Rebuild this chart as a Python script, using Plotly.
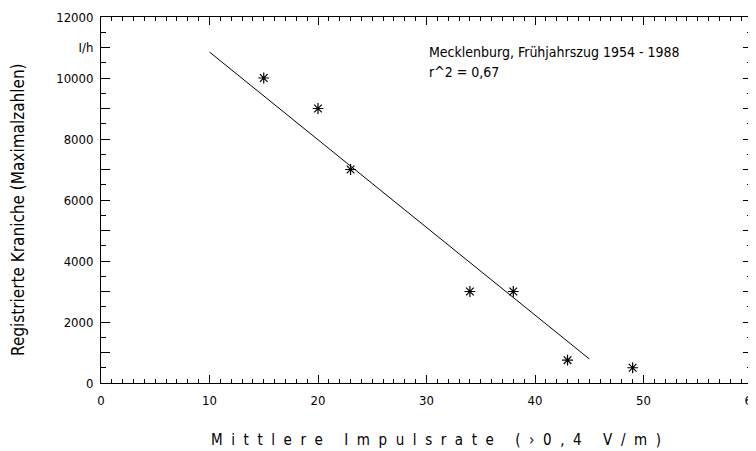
import plotly.graph_objects as go

# Data
impulse_rate = [15, 20, 23, 34, 38, 43, 49]
cranes = [10000, 9000, 7000, 3000, 3000, 750, 500]
fit_x = [10, 45]
fit_y = [10850, 790]

x_ticks = [0, 10, 20, 30, 40, 50, 60]
x_ticktext = ["0", "10", "20", "30", "40", "50", "60"]
y_ticks = [0, 1000, 2000, 3000, 4000, 5000, 6000, 7000, 8000, 9000, 10000, 11000, 12000]
y_ticktext = ["0", "", "2000", "", "4000", "", "6000", "", "8000", "", "10000", "I/h", "12000"]

x_title_words = ["Mittlere", "Impulsrate", "(\u203a0,4", "V/m)"]
y_title = "Registrierte Kraniche (Maximalzahlen)"
note_lines = ["Mecklenburg, Frühjahrszug 1954 - 1988", "r^2 = 0,67"]

FONT = "DejaVu Sans Condensed, DejaVu Sans, sans-serif"

fig = go.Figure()
fig.add_trace(go.Scatter(x=fit_x, y=fit_y, mode="lines",
                         line=dict(color="black", width=1), showlegend=False))
fig.add_trace(go.Scatter(x=impulse_rate, y=cranes, mode="markers",
                         marker=dict(symbol="asterisk-open", size=9, color="black",
                                     line=dict(color="black", width=1.2)),
                         showlegend=False))

fig.update_layout(
    width=748, height=443,
    margin=dict(l=93, r=4, t=9, b=68),
    plot_bgcolor="white", paper_bgcolor="white",
    font=dict(family=FONT, size=14, color="black"),
    xaxis=dict(range=[0, 60], tickvals=x_ticks, ticktext=x_ticktext,
               ticks="inside", ticklen=8, tickwidth=1, tickcolor="black",
               showline=True, linecolor="black", linewidth=1, mirror="ticks",
               showgrid=False, zeroline=False, automargin=False,
               ticklabeloverflow="allow", ticklabelstandoff=5,
               minor=dict(dtick=1, ticks="inside", ticklen=4, tickcolor="black", showgrid=False),
               tickfont=dict(family=FONT, size=13)),
    yaxis=dict(range=[0, 12000], tickvals=y_ticks, ticktext=y_ticktext,
               ticks="inside", ticklen=9, tickwidth=1, tickcolor="black",
               showline=True, linecolor="black", linewidth=1, mirror="ticks",
               showgrid=False, zeroline=False, automargin=False,
               ticklabeloverflow="allow", ticklabelstandoff=4,
               minor=dict(dtick=500, ticks="inside", ticklen=5, tickcolor="black", showgrid=False),
               tickfont=dict(family=FONT, size=13)),
)

x_title = "     ".join("  ".join(list(w)) for w in x_title_words)
fig.add_annotation(xref="paper", yref="paper", x=0.515, y=-0.155, yanchor="middle",
                   showarrow=False, font=dict(family=FONT, size=15), text=x_title)
fig.add_annotation(xref="paper", yref="paper", x=-0.1275, y=0.473, textangle=-90,
                   xanchor="center", yanchor="middle",
                   showarrow=False, font=dict(family=FONT, size=17), text=y_title)
fig.add_annotation(xref="paper", yref="paper", x=0.5, y=0.905, xanchor="left", yanchor="middle",
                   showarrow=False, font=dict(family=FONT, size=14), text=note_lines[0])
fig.add_annotation(xref="paper", yref="paper", x=0.5, y=0.85, xanchor="left", yanchor="middle",
                   showarrow=False, font=dict(family=FONT, size=14), text=note_lines[1])

fig.write_html("out.html")
